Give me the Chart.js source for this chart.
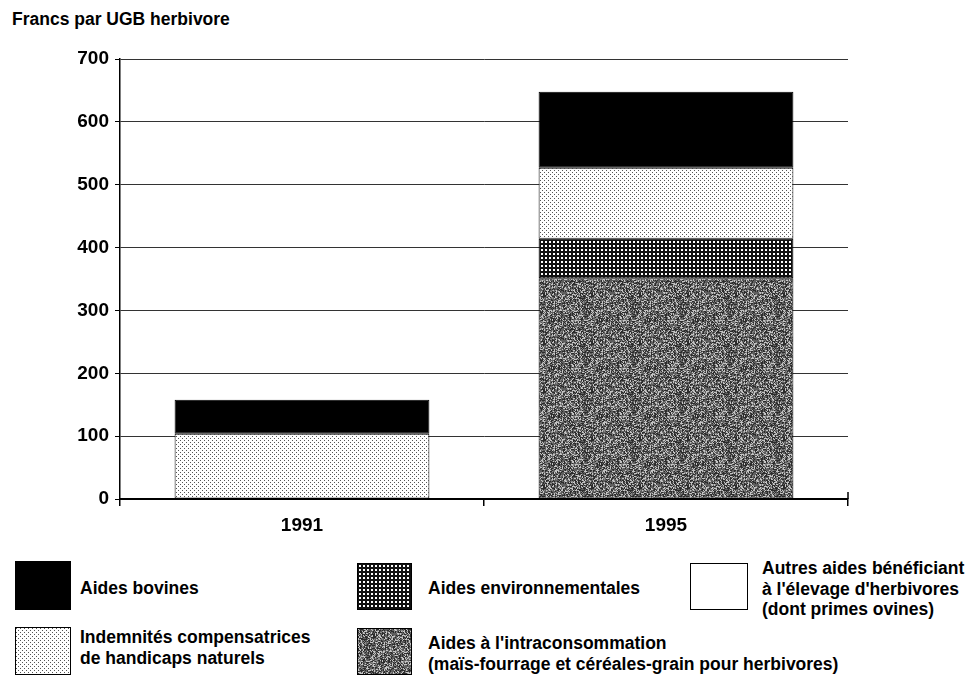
<!DOCTYPE html>
<html>
<head>
<meta charset="utf-8">
<script src="https://cdn.jsdelivr.net/npm/chart.js@4"></script>
<style>
  body { margin: 0; background: #fff; font-family: "Liberation Sans", Arial, sans-serif; font-weight: bold; color: #000; }
  #wrap { position: relative; width: 971px; height: 675px; overflow: hidden; }
  #chart-wrap { position: absolute; left: 0; top: 0; width: 971px; height: 545px; }
  .title { position: absolute; left: 12px; top: 9px; font-size: 17.5px; }
  .sw { position: absolute; box-sizing: border-box; border: 1.5px solid #000; }
  .lg { position: absolute; font-size: 17.5px; line-height: 20.5px; white-space: nowrap; }
</style>
</head>
<body>
<div id="wrap">
  <div class="title">Francs par UGB herbivore</div>
  <div id="chart-wrap"><canvas id="chart"></canvas></div>
  <div id="legend"></div>
</div>
<script>
const years = ["1991", "1995"];
const intraconsommation = [0, 351];
const environnementales = [0, 63];
const indemnites = [104, 113];
const autresAides = [0, 0];
const bovines = [54, 121];
const yTicks = [0, 100, 200, 300, 400, 500, 600, 700];

// texture tiles for the hatched fills
function tile(w, h, draw) {
  const c = document.createElement("canvas");
  c.width = w; c.height = h;
  draw(c.getContext("2d"));
  return c;
}
const dotsTile = tile(4, 4, (g) => {
  g.fillStyle = "#fff"; g.fillRect(0, 0, 4, 4);
  g.fillStyle = "#555"; g.fillRect(0, 0, 1, 1); g.fillRect(2, 2, 1, 1);
});
const gridTile = tile(4, 4, (g) => {
  g.fillStyle = "#111"; g.fillRect(0, 0, 4, 4);
  g.fillStyle = "#fff"; g.fillRect(1, 1, 2, 2);
});
const speckleTile = tile(48, 48, (g) => {
  g.fillStyle = "#5e5e5e"; g.fillRect(0, 0, 48, 48);
  for (let y = 0; y < 48; y++) {
    for (let x = 0; x < 48; x++) {
      let h = (Math.imul(x + 1, 73856093) ^ Math.imul(y + 7, 19349663)) >>> 0;
      h = (Math.imul(h ^ (h >>> 13), 1274126177) >>> 0) % 100;
      if (h < 22) { g.fillStyle = "#c4c4c4"; g.fillRect(x, y, 1, 1); }
      else if (h < 50) { g.fillStyle = "#2c2c2c"; g.fillRect(x, y, 1, 1); }
      else if (h < 62) { g.fillStyle = "#8a8a8a"; g.fillRect(x, y, 1, 1); }
    }
  }
});

const ctx = document.getElementById("chart").getContext("2d");
const pat = (t) => ctx.createPattern(t, "repeat");

const series = [
  { label: "Aides à l'intraconsommation", data: intraconsommation, fill: pat(speckleTile) },
  { label: "Aides environnementales", data: environnementales, fill: pat(gridTile) },
  { label: "Indemnités compensatrices de handicaps naturels", data: indemnites, fill: pat(dotsTile) },
  { label: "Autres aides", data: autresAides, fill: "#fff" },
  { label: "Aides bovines", data: bovines, fill: "#000" },
];

// small upward tick at the right end of the category axis
const axisEnd = {
  id: "axisEnd",
  afterDraw(chart) {
    const { ctx: c, chartArea: a } = chart;
    c.save();
    c.strokeStyle = "#000"; c.lineWidth = 1.5;
    c.beginPath(); c.moveTo(a.right, a.bottom - 7); c.lineTo(a.right, a.bottom); c.stroke();
    c.restore();
  },
};

new Chart(ctx, {
  type: "bar",
  data: {
    labels: years,
    datasets: series.map((s) => ({
      label: s.label,
      data: s.data,
      backgroundColor: s.fill,
      borderColor: "#000",
      borderWidth: (c) => (c.raw ? 1 : 0),
      borderSkipped: false,
      categoryPercentage: 1,
      barPercentage: 0.7,
    })),
  },
  plugins: [axisEnd],
  options: {
    responsive: true,
    maintainAspectRatio: false,
    animation: false,
    layout: { padding: { left: 0, right: 123, top: 59, bottom: 0 } },
    plugins: { legend: { display: false }, tooltip: { enabled: false } },
    scales: {
      x: {
        stacked: true,
        afterFit: (s) => { s.height = 46; },
        border: { color: "#000", width: 2 },
        grid: { offset: true, drawOnChartArea: false, tickLength: 7, color: "#000", lineWidth: 1.5 },
        ticks: { color: "#000", padding: 8, font: { family: "Liberation Sans", weight: "bold", size: 19 } },
      },
      y: {
        stacked: true,
        min: 0,
        max: 700,
        afterFit: (s) => { s.width = 120; },
        afterBuildTicks: (s) => { s.ticks = yTicks.map((v) => ({ value: v })); },
        border: { color: "#000", width: 1.5 },
        grid: { color: "#333", lineWidth: 1, borderDash: [1, 2], tickLength: 5, tickColor: "#000", tickBorderDash: [] },
        ticks: { color: "#000", padding: 6, font: { family: "Liberation Sans", weight: "bold", size: 19 } },
      },
    },
  },
});

// legend, laid out like the printed key
const legendItems = [
  { x: 15, y: 561, w: 56, h: 49, bg: "#000", tx: 80, ty: 578, lines: ["Aides bovines"] },
  { x: 15, y: 627, w: 56, h: 48, tile: dotsTile, tx: 80, ty: 627, lines: ["Indemnités compensatrices", "de handicaps naturels"] },
  { x: 357, y: 563, w: 55, h: 47, tile: gridTile, tx: 428, ty: 578, lines: ["Aides environnementales"] },
  { x: 357, y: 628, w: 55, h: 47, tile: speckleTile, tx: 428, ty: 633, lines: ["Aides à l'intraconsommation", "(maïs-fourrage et céréales-grain pour herbivores)"] },
  { x: 690, y: 563, w: 58, h: 47, bg: "#fff", tx: 762, ty: 558, lines: ["Autres aides bénéficiant", "à l'élevage d'herbivores", "(dont primes ovines)"] },
];
const legend = document.getElementById("legend");
legendItems.forEach((it) => {
  const sw = document.createElement("div");
  sw.className = "sw";
  Object.assign(sw.style, { left: it.x + "px", top: it.y + "px", width: it.w + "px", height: it.h + "px" });
  if (it.tile) sw.style.backgroundImage = `url(${it.tile.toDataURL()})`;
  else sw.style.background = it.bg;
  legend.appendChild(sw);
  const tx = document.createElement("div");
  tx.className = "lg";
  Object.assign(tx.style, { left: it.tx + "px", top: it.ty + "px" });
  tx.innerHTML = it.lines.join("<br>");
  legend.appendChild(tx);
});
</script>
</body>
</html>
